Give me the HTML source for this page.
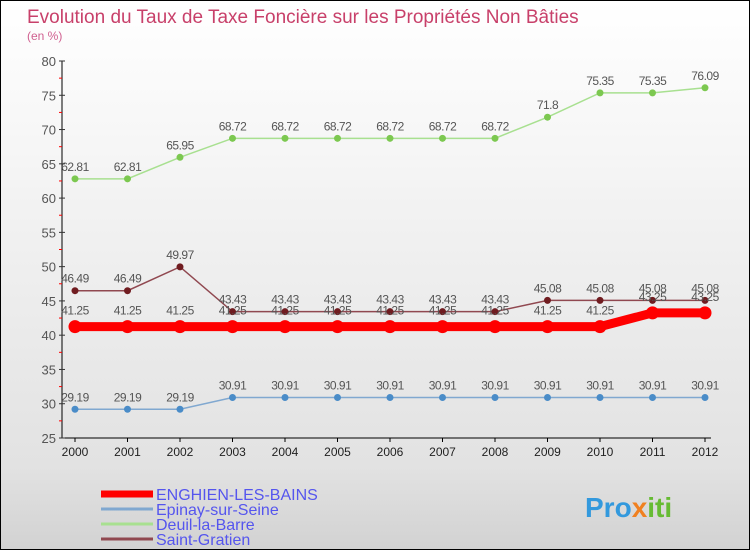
<!DOCTYPE html>
<html><head><meta charset="utf-8"><style>
html,body{margin:0;padding:0}
body{width:750px;height:550px;overflow:hidden;font-family:"Liberation Sans",sans-serif}
#wrap{position:relative;width:748px;height:548px;border:1px solid #000;background:linear-gradient(#ffffff,#e2e2e2 85%,#d2d2d2)}
</style></head><body>
<div id="wrap">
<svg id="chart" width="748" height="548" style="position:absolute;left:0;top:0">
<text x="26" y="22" font-size="19" fill="#c8406a">Evolution du Taux de Taxe Foncière sur les Propriétés Non Bâties</text>
<text x="26" y="39" font-size="12" fill="#d06090">(en %)</text>
<text x="155" y="499" font-size="16" fill="#5555ee">ENGHIEN-LES-BAINS</text>
<text x="155" y="514" font-size="16" fill="#5555ee">Epinay-sur-Seine</text>
<text x="155" y="529" font-size="16" fill="#5555ee">Deuil-la-Barre</text>
<text x="155" y="544" font-size="16" fill="#5555ee">Saint-Gratien</text>
<text x="584" y="516" font-size="28" font-weight="bold" fill="#3399dd">Pro<tspan fill="#f08020">x</tspan><tspan fill="#66bb33">iti</tspan></text>
</svg>
</div>
<script>
const years=[2000,2001,2002,2003,2004,2005,2006,2007,2008,2009,2010,2011,2012];
const yTicks=[25,30,35,40,45,50,55,60,65,70,75,80];
const enghien=[41.25,41.25,41.25,41.25,41.25,41.25,41.25,41.25,41.25,41.25,41.25,43.25,43.25];
const epinay=[29.19,29.19,29.19,30.91,30.91,30.91,30.91,30.91,30.91,30.91,30.91,30.91,30.91];
const deuil=[62.81,62.81,65.95,68.72,68.72,68.72,68.72,68.72,68.72,71.8,75.35,75.35,76.09];
const gratien=[46.49,46.49,49.97,43.43,43.43,43.43,43.43,43.43,43.43,45.08,45.08,45.08,45.08];
const svg=document.getElementById('chart');
const NS='http://www.w3.org/2000/svg';
const X=i=>74+i*52.5;
const Y=v=>437-(v-25)*(377/55);
function mk(t,a){const e=document.createElementNS(NS,t);for(const k in a)e.setAttribute(k,a[k]);svg.appendChild(e);return e;}
let ax=mk('line',{x1:61,y1:60,x2:61,y2:437,stroke:'#000'});


let bx=mk('line',{x1:61,y1:437,x2:710,y2:437,stroke:'#000'});


yTicks.forEach(v=>{
  const t=mk('text',{x:55,y:Y(v)+5,'font-size':13,fill:'#555','text-anchor':'end'});t.textContent=v;
  
  
  mk('line',{x1:58,y1:Y(v),x2:64,y2:Y(v),stroke:'#333'});
  if(v<80){mk('line',{x1:58,y1:Y(v+2.5),x2:61,y2:Y(v+2.5),stroke:'#f00'});}
});
years.forEach((y,i)=>{
  mk('line',{x1:X(i),y1:437,x2:X(i),y2:441,stroke:'#000'});
  const t=mk('text',{x:X(i),y:455,'font-size':12,fill:'#222','text-anchor':'middle'});t.textContent=y;
  
  
});
function series(d,name,lc,pc,lw,r,dy){
  const g=document.createElementNS(NS,'g');svg.appendChild(g);
  
  
  const p=document.createElementNS(NS,'polyline');
  p.setAttribute('points',d.map((v,i)=>X(i)+','+Y(v)).join(' '));
  p.setAttribute('fill','none');p.setAttribute('stroke',lc);p.setAttribute('stroke-width',lw);
  g.appendChild(p);
  d.forEach((v,i)=>{
    const c=document.createElementNS(NS,'circle');
    c.setAttribute('cx',X(i));c.setAttribute('cy',Y(v));c.setAttribute('r',r);c.setAttribute('fill',pc);
    
    
    g.appendChild(c);
    const t=document.createElementNS(NS,'text');
    t.setAttribute('x',X(i));t.setAttribute('y',Y(v)+dy);t.setAttribute('font-size',12);
    t.setAttribute('fill','#555');t.setAttribute('text-anchor','middle');t.setAttribute('letter-spacing','-0.5');
    t.textContent=v;
    
    
    g.appendChild(t);
  });
}
series(epinay,'epinay','#80a8d0','#4a8cc8',1.5,3.5,-8);
series(deuil,'deuil','#a8e090','#7cc850',1.5,3.5,-8);
series(gratien,'saint-gratien','#904850','#701c20',1.5,3.5,-8);
series(enghien,'enghien','#f00','#f00',9,6.5,-12);
[['#f00',7],['#80a8d0',3],['#a8e090',3],['#904850',3]].forEach((l,i)=>{
  const e=mk('line',{x1:100,y1:493+i*15,x2:152,y2:493+i*15,stroke:l[0],'stroke-width':l[1]});
  
  
});
</script>
</body></html>
